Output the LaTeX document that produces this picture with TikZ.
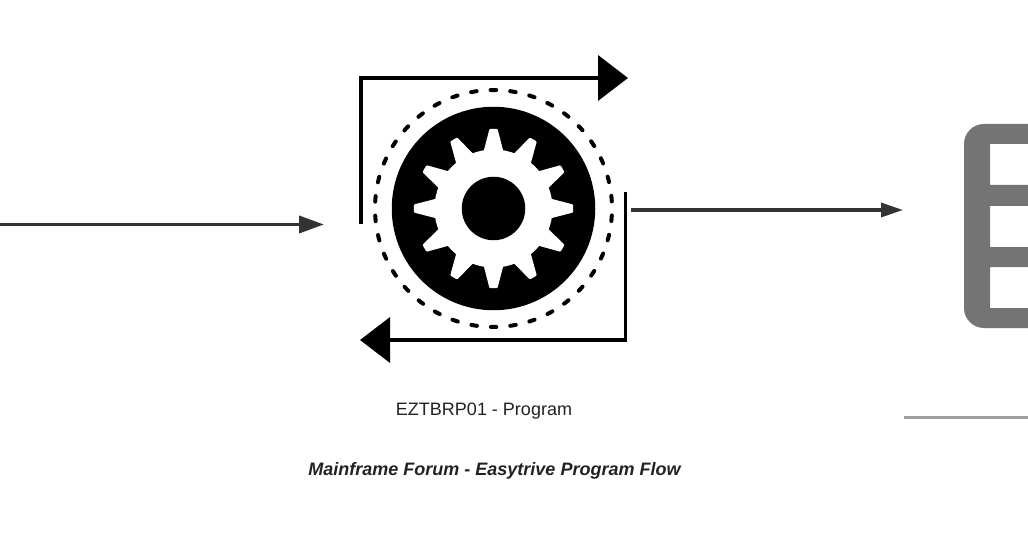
\documentclass[tikz,border=0pt]{standalone}
\usepackage{fontspec}
\setmainfont{Liberation Sans}
\usetikzlibrary{arrows.meta}
\definecolor{inkline}{HTML}{333333}
\definecolor{inktext}{HTML}{222222}
\definecolor{stencil}{HTML}{747474}
\definecolor{rulegray}{HTML}{A0A0A0}
\tikzset{
  flow/.style={draw=inkline,line width=3.8pt,-{Triangle[length=25pt,width=17pt]}},
  flowthin/.style={draw=inkline,line width=3.4pt,-{Triangle[length=22pt,width=14pt]}},
  loopline/.style={draw=black,line width=3.8pt,line join=miter,-{Triangle[length=30pt,width=45pt]}},
  caption/.style={text=inktext,font=\fontsize{18}{20}\selectfont,inner sep=0pt},
  titletext/.style={text=inktext,font=\fontsize{18}{20}\selectfont\bfseries\itshape,inner sep=0pt},
  tooth/.style={fill=white,rounded corners=1pt},
  ringdash/.style={draw=black,line width=4pt,line cap=round,dash pattern=on 5.6pt off 14pt,dash phase=2.8pt}
}
\begin{document}
\begin{tikzpicture}[x=1pt,y=-1pt]
\useasboundingbox (0,0) rectangle (1028,540);
\clip (0,0) rectangle (1028,540);
\fill[white] (0,0) rectangle (1028,540);

% cog
\node[circle,fill=black,minimum size=203.5pt,inner sep=0pt] (disc) at (493.5,208.5) {};
\fill[white] (disc.center) circle[radius=59pt];
\foreach \a in {0,30,...,330}{
  \fill[tooth,rotate around={\a:(493.5,208.5)}]
    (489.5,128.8) -- (497.5,128.8) -- (503.5,152) -- (483.5,152) -- cycle;
}
\node[circle,fill=black,minimum size=63.5pt,inner sep=0pt] (hub) at (493.5,208.5) {};
\draw[ringdash,rotate around={-90:(493.5,208.5)}] (493.5,208.5) circle[radius=118.5pt];

% loop arrows
\coordinate (loopAstart) at (361,224);
\coordinate (loopAend) at (628,78);
\coordinate (loopBstart) at (625.5,192);
\coordinate (loopBend) at (360,340);
\draw[loopline] (loopAstart) |- (loopAend);
\draw[loopline] (loopBstart) |- (loopBend);

% flow arrows
\coordinate (feedIn) at (0,224.5);
\coordinate (iconIn) at (324,224.5);
\coordinate (iconOut) at (631,210);
\coordinate (boxIn) at (903,210);
\draw[flow] (feedIn) -- (iconIn);
\draw[flowthin] (iconOut) -- (boxIn);

% stencil letter
\fill[stencil,even odd rule]
  [rounded corners=20pt] (964,124) rectangle (1060,328)
  [sharp corners] (990,144) rectangle (1060,185)
  (990,206) rectangle (1060,247)
  (990,267) rectangle (1060,308);
\draw[rulegray,line width=3pt] (904,417.5) -- (1028,417.5);

% labels
\node[caption] (lab) at (484,411) {EZTBRP01 - Program};
\node[titletext] (ttl) at (494.5,471) {Mainframe Forum - Easytrive Program Flow};
\end{tikzpicture}
\end{document}
